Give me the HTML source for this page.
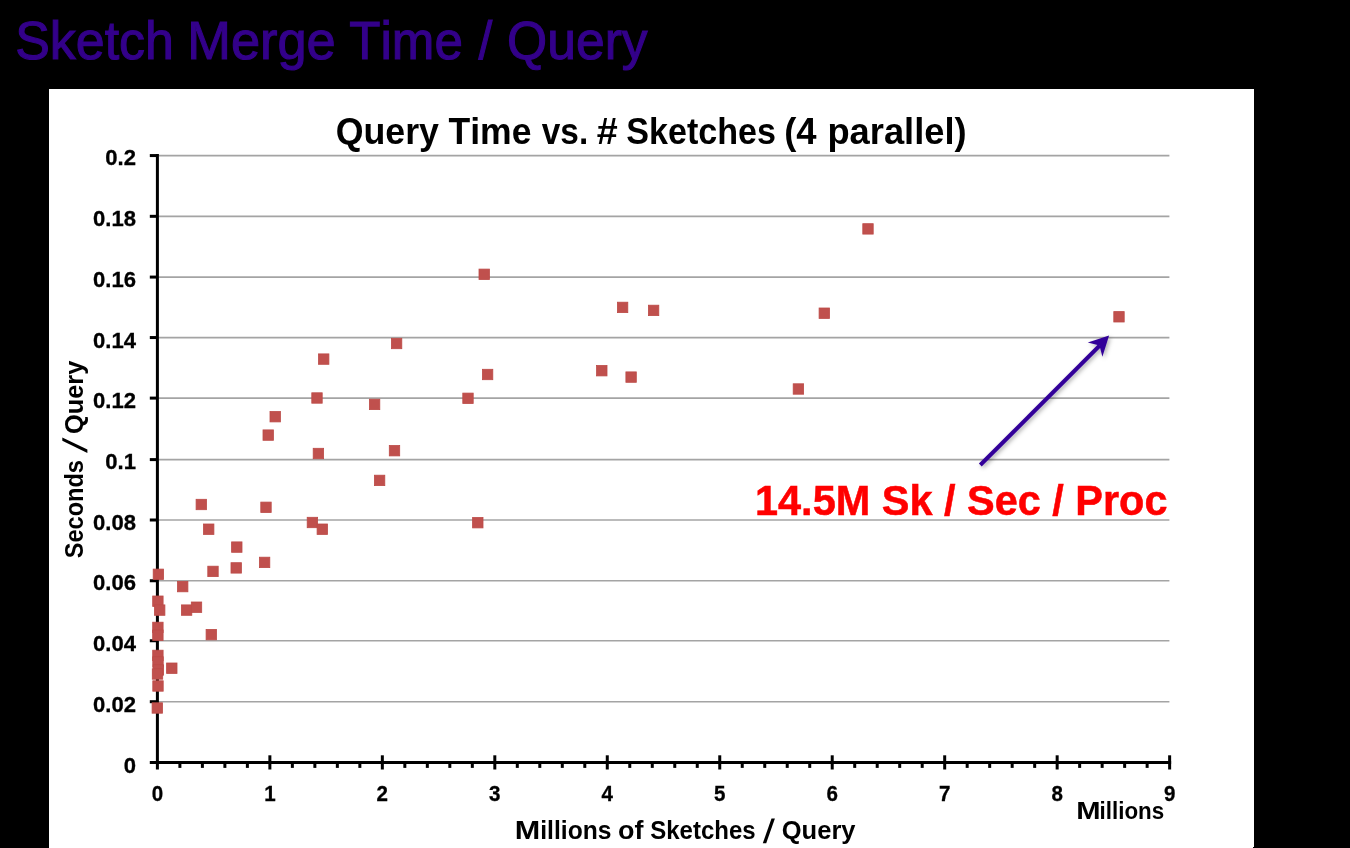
<!DOCTYPE html>
<html><head><meta charset="utf-8"><title>Sketch Merge Time / Query</title>
<style>
html,body{margin:0;padding:0;background:#000;}
body{width:1350px;height:848px;overflow:hidden;font-family:"Liberation Sans",sans-serif;}
svg{display:block;will-change:transform;}
text{font-family:"Liberation Sans",sans-serif;font-kerning:none;}
.b{font-weight:bold;fill:#000;}
</style></head><body>
<svg width="1350" height="848" viewBox="0 0 1350 848">
<rect x="0" y="0" width="1350" height="848" fill="#000"/>

<text fill="#33008a" stroke="#33008a" stroke-width="1.1" x="15.19" y="59.1" font-size="53.6" textLength="158.68" lengthAdjust="spacingAndGlyphs" >Sketch</text>
<text fill="#33008a" stroke="#33008a" stroke-width="1.1" x="187.25" y="59.1" font-size="53.6" textLength="148.47" lengthAdjust="spacingAndGlyphs" >Merge</text>
<text fill="#33008a" stroke="#33008a" stroke-width="1.1" x="349.35" y="59.1" font-size="53.6" textLength="113.47" lengthAdjust="spacingAndGlyphs" >Time</text>
<text fill="#33008a" stroke="#33008a" stroke-width="1.1" x="478.55" y="59.1" font-size="53.6" textLength="13.80" lengthAdjust="spacingAndGlyphs" >/</text>
<text fill="#33008a" stroke="#33008a" stroke-width="1.1" x="507.11" y="59.1" font-size="53.6" textLength="140.55" lengthAdjust="spacingAndGlyphs" >Query</text>
<rect x="49" y="89" width="1205" height="759" fill="#fff"/>

<g stroke="#a4a4a4" stroke-width="1.65">
<line x1="157.4" y1="701.70" x2="1169.4" y2="701.70"/>
<line x1="157.4" y1="640.75" x2="1169.4" y2="640.75"/>
<line x1="157.4" y1="580.75" x2="1169.4" y2="580.75"/>
<line x1="157.4" y1="520.00" x2="1169.4" y2="520.00"/>
<line x1="157.4" y1="459.60" x2="1169.4" y2="459.60"/>
<line x1="157.4" y1="398.10" x2="1169.4" y2="398.10"/>
<line x1="157.4" y1="337.55" x2="1169.4" y2="337.55"/>
<line x1="157.4" y1="277.08" x2="1169.4" y2="277.08"/>
<line x1="157.4" y1="216.32" x2="1169.4" y2="216.32"/>
<line x1="157.4" y1="155.57" x2="1169.4" y2="155.57"/>
</g>
<g stroke="#000" stroke-width="3">
<line x1="157.4" y1="154.05" x2="157.4" y2="769.5"/>
<line x1="149.8" y1="762.4" x2="1171.13" y2="762.4"/>
</g>
<g stroke="#000" stroke-width="3">
<line x1="149.8" y1="701.70" x2="157.4" y2="701.70"/>
<line x1="149.8" y1="640.75" x2="157.4" y2="640.75"/>
<line x1="149.8" y1="580.75" x2="157.4" y2="580.75"/>
<line x1="149.8" y1="520.00" x2="157.4" y2="520.00"/>
<line x1="149.8" y1="459.60" x2="157.4" y2="459.60"/>
<line x1="149.8" y1="398.10" x2="157.4" y2="398.10"/>
<line x1="149.8" y1="337.55" x2="157.4" y2="337.55"/>
<line x1="149.8" y1="277.08" x2="157.4" y2="277.08"/>
<line x1="149.8" y1="216.32" x2="157.4" y2="216.32"/>
<line x1="149.8" y1="155.57" x2="157.4" y2="155.57"/>
<line x1="179.89" y1="762.4" x2="179.89" y2="767.9"/>
<line x1="202.39" y1="762.4" x2="202.39" y2="767.9"/>
<line x1="224.88" y1="762.4" x2="224.88" y2="767.9"/>
<line x1="247.38" y1="762.4" x2="247.38" y2="767.9"/>
<line x1="269.87" y1="755.3" x2="269.87" y2="769.5"/>
<line x1="292.36" y1="762.4" x2="292.36" y2="767.9"/>
<line x1="314.86" y1="762.4" x2="314.86" y2="767.9"/>
<line x1="337.35" y1="762.4" x2="337.35" y2="767.9"/>
<line x1="359.85" y1="762.4" x2="359.85" y2="767.9"/>
<line x1="382.34" y1="755.3" x2="382.34" y2="769.5"/>
<line x1="404.83" y1="762.4" x2="404.83" y2="767.9"/>
<line x1="427.33" y1="762.4" x2="427.33" y2="767.9"/>
<line x1="449.82" y1="762.4" x2="449.82" y2="767.9"/>
<line x1="472.32" y1="762.4" x2="472.32" y2="767.9"/>
<line x1="494.81" y1="755.3" x2="494.81" y2="769.5"/>
<line x1="517.30" y1="762.4" x2="517.30" y2="767.9"/>
<line x1="539.80" y1="762.4" x2="539.80" y2="767.9"/>
<line x1="562.29" y1="762.4" x2="562.29" y2="767.9"/>
<line x1="584.79" y1="762.4" x2="584.79" y2="767.9"/>
<line x1="607.28" y1="755.3" x2="607.28" y2="769.5"/>
<line x1="629.77" y1="762.4" x2="629.77" y2="767.9"/>
<line x1="652.27" y1="762.4" x2="652.27" y2="767.9"/>
<line x1="674.76" y1="762.4" x2="674.76" y2="767.9"/>
<line x1="697.26" y1="762.4" x2="697.26" y2="767.9"/>
<line x1="719.75" y1="755.3" x2="719.75" y2="769.5"/>
<line x1="742.24" y1="762.4" x2="742.24" y2="767.9"/>
<line x1="764.74" y1="762.4" x2="764.74" y2="767.9"/>
<line x1="787.23" y1="762.4" x2="787.23" y2="767.9"/>
<line x1="809.73" y1="762.4" x2="809.73" y2="767.9"/>
<line x1="832.22" y1="755.3" x2="832.22" y2="769.5"/>
<line x1="854.71" y1="762.4" x2="854.71" y2="767.9"/>
<line x1="877.21" y1="762.4" x2="877.21" y2="767.9"/>
<line x1="899.70" y1="762.4" x2="899.70" y2="767.9"/>
<line x1="922.20" y1="762.4" x2="922.20" y2="767.9"/>
<line x1="944.69" y1="755.3" x2="944.69" y2="769.5"/>
<line x1="967.18" y1="762.4" x2="967.18" y2="767.9"/>
<line x1="989.68" y1="762.4" x2="989.68" y2="767.9"/>
<line x1="1012.17" y1="762.4" x2="1012.17" y2="767.9"/>
<line x1="1034.67" y1="762.4" x2="1034.67" y2="767.9"/>
<line x1="1057.16" y1="755.3" x2="1057.16" y2="769.5"/>
<line x1="1079.65" y1="762.4" x2="1079.65" y2="767.9"/>
<line x1="1102.15" y1="762.4" x2="1102.15" y2="767.9"/>
<line x1="1124.64" y1="762.4" x2="1124.64" y2="767.9"/>
<line x1="1147.14" y1="762.4" x2="1147.14" y2="767.9"/>
<line x1="1169.63" y1="755.3" x2="1169.63" y2="769.5"/>
</g>
<g fill="#C0504D" stroke="#BC4A47" stroke-width="0.8">
<rect x="153.2" y="569.1" width="10.4" height="10.4"/>
<rect x="177.5" y="581.4" width="10.4" height="10.4"/>
<rect x="207.8" y="566.2" width="10.4" height="10.4"/>
<rect x="231.0" y="562.7" width="10.4" height="10.4"/>
<rect x="231.6" y="541.9" width="10.4" height="10.4"/>
<rect x="259.4" y="557.2" width="10.4" height="10.4"/>
<rect x="152.7" y="596.0" width="10.4" height="10.4"/>
<rect x="154.5" y="604.9" width="10.4" height="10.4"/>
<rect x="181.4" y="604.9" width="10.4" height="10.4"/>
<rect x="191.3" y="602.0" width="10.4" height="10.4"/>
<rect x="152.7" y="622.2" width="10.4" height="10.4"/>
<rect x="152.7" y="630.0" width="10.4" height="10.4"/>
<rect x="206.1" y="629.4" width="10.4" height="10.4"/>
<rect x="152.7" y="650.2" width="10.4" height="10.4"/>
<rect x="152.8" y="656.8" width="10.4" height="10.4"/>
<rect x="166.6" y="663.0" width="10.4" height="10.4"/>
<rect x="153.2" y="664.8" width="10.4" height="10.4"/>
<rect x="152.3" y="668.8" width="10.4" height="10.4"/>
<rect x="152.8" y="680.8" width="10.4" height="10.4"/>
<rect x="152.1" y="702.8" width="10.4" height="10.4"/>
<rect x="391.4" y="338.3" width="10.4" height="10.4"/>
<rect x="318.5" y="353.9" width="10.4" height="10.4"/>
<rect x="311.8" y="392.8" width="10.4" height="10.4"/>
<rect x="369.4" y="399.2" width="10.4" height="10.4"/>
<rect x="270.0" y="411.5" width="10.4" height="10.4"/>
<rect x="263.0" y="429.9" width="10.4" height="10.4"/>
<rect x="313.2" y="448.3" width="10.4" height="10.4"/>
<rect x="389.3" y="445.5" width="10.4" height="10.4"/>
<rect x="374.4" y="475.2" width="10.4" height="10.4"/>
<rect x="196.1" y="499.3" width="10.4" height="10.4"/>
<rect x="260.8" y="502.1" width="10.4" height="10.4"/>
<rect x="203.5" y="524.0" width="10.4" height="10.4"/>
<rect x="307.2" y="517.3" width="10.4" height="10.4"/>
<rect x="317.1" y="524.0" width="10.4" height="10.4"/>
<rect x="479.0" y="269.1" width="10.4" height="10.4"/>
<rect x="617.4" y="302.2" width="10.4" height="10.4"/>
<rect x="648.4" y="305.2" width="10.4" height="10.4"/>
<rect x="819.1" y="308.0" width="10.4" height="10.4"/>
<rect x="482.4" y="369.3" width="10.4" height="10.4"/>
<rect x="596.6" y="365.5" width="10.4" height="10.4"/>
<rect x="625.9" y="371.9" width="10.4" height="10.4"/>
<rect x="793.2" y="383.8" width="10.4" height="10.4"/>
<rect x="462.8" y="393.1" width="10.4" height="10.4"/>
<rect x="472.6" y="517.5" width="10.4" height="10.4"/>
<rect x="862.8" y="223.7" width="10.4" height="10.4"/>
<rect x="1113.8" y="311.6" width="10.4" height="10.4"/>
</g>
<g class="b" font-size="21.2" text-anchor="end" stroke="#000" stroke-width="0.3">
<text transform="translate(136.0,772.50) scale(1.04,1)">0</text>
<text transform="translate(136.0,711.79) scale(1.04,1)">0.02</text>
<text transform="translate(136.0,651.08) scale(1.04,1)">0.04</text>
<text transform="translate(136.0,590.37) scale(1.04,1)">0.06</text>
<text transform="translate(136.0,529.66) scale(1.04,1)">0.08</text>
<text transform="translate(136.0,468.95) scale(1.04,1)">0.1</text>
<text transform="translate(136.0,408.24) scale(1.04,1)">0.12</text>
<text transform="translate(136.0,347.53) scale(1.04,1)">0.14</text>
<text transform="translate(136.0,286.82) scale(1.04,1)">0.16</text>
<text transform="translate(136.0,226.11) scale(1.04,1)">0.18</text>
<text transform="translate(136.0,165.40) scale(1.04,1)">0.2</text>
</g>
<g class="b" font-size="21.2" text-anchor="middle" stroke="#000" stroke-width="0.3">
<text transform="translate(157.40,800.7) scale(0.97,1)">0</text>
<text transform="translate(269.87,800.7) scale(0.97,1)">1</text>
<text transform="translate(382.34,800.7) scale(0.97,1)">2</text>
<text transform="translate(494.81,800.7) scale(0.97,1)">3</text>
<text transform="translate(607.28,800.7) scale(0.97,1)">4</text>
<text transform="translate(719.75,800.7) scale(0.97,1)">5</text>
<text transform="translate(832.22,800.7) scale(0.97,1)">6</text>
<text transform="translate(944.69,800.7) scale(0.97,1)">7</text>
<text transform="translate(1057.16,800.7) scale(0.97,1)">8</text>
<text transform="translate(1169.63,800.7) scale(0.97,1)">9</text>
</g>
<text class="b" x="335.63" y="143.8" font-size="36.3" textLength="103.36" lengthAdjust="spacingAndGlyphs" >Query</text>
<text class="b" x="448.50" y="143.8" font-size="36.3" textLength="83.02" lengthAdjust="spacingAndGlyphs" >Time</text>
<text class="b" x="541.77" y="143.8" font-size="36.3" textLength="46.43" lengthAdjust="spacingAndGlyphs" >vs.</text>
<text class="b" x="596.76" y="143.8" font-size="36.3" textLength="20.95" lengthAdjust="spacingAndGlyphs" >#</text>
<text class="b" x="626.32" y="143.8" font-size="36.3" textLength="149.68" lengthAdjust="spacingAndGlyphs" >Sketches</text>
<text class="b" x="784.18" y="143.8" font-size="36.3" textLength="32.41" lengthAdjust="spacingAndGlyphs" >(4</text>
<text class="b" x="827.41" y="143.8" font-size="36.3" textLength="139.20" lengthAdjust="spacingAndGlyphs" >parallel)</text>
<text class="b" x="514.85" y="839.05" font-size="26" textLength="25.49" lengthAdjust="spacingAndGlyphs" >M</text>
<text class="b" x="540.28" y="839.05" font-size="26" textLength="71.23" lengthAdjust="spacingAndGlyphs" >illions</text>
<text class="b" x="618.05" y="839.05" font-size="26" textLength="25.40" lengthAdjust="spacingAndGlyphs" >of</text>
<text class="b" x="650.21" y="839.05" font-size="26" textLength="105.38" lengthAdjust="spacingAndGlyphs" >Sketches</text>
<text class="b" x="781.75" y="839.05" font-size="26" textLength="73.78" lengthAdjust="spacingAndGlyphs" >Query</text><polygon points="762.8,843.3 766.2,843.3 774.9,818.4 771.5,818.4" fill="#000"/>
<text class="b" x="1076.15" y="818.8" font-size="23.8" textLength="24.30" lengthAdjust="spacingAndGlyphs" >M</text>
<text class="b" x="1099.54" y="818.8" font-size="23.8" textLength="64.68" lengthAdjust="spacingAndGlyphs" >illions</text>
<g transform="translate(83.4,0) rotate(-90)"><text class="b" x="-558.28" y="0" font-size="26.4" textLength="98.25" lengthAdjust="spacingAndGlyphs" >Seconds</text>
<text class="b" x="-434.04" y="0" font-size="26.4" textLength="73.28" lengthAdjust="spacingAndGlyphs" >Query</text><polygon points="-453,4 -449.6,4 -437.4,-21.1 -440.8,-21.1" fill="#000"/></g>
<defs><filter id="sh" x="-10%" y="-10%" width="125%" height="125%"><feDropShadow dx="1.6" dy="1.8" stdDeviation="1.9" flood-color="#000" flood-opacity="0.33"/></filter></defs>
<g filter="url(#sh)" fill="#330099">
<line x1="980.3" y1="465" x2="1099.8" y2="345.5" stroke="#330099" stroke-width="4"/>
<path d="M1109.1 335.4 L1087.8 342.5 L1099.5 345.4 L1102.4 356.8 Z"/>
</g>
<text x="755" y="514.6" font-size="42" font-weight="bold" fill="#FF0000" stroke="#FF0000" stroke-width="0.5" textLength="412.5" lengthAdjust="spacingAndGlyphs">14.5M Sk / Sec / Proc</text>
<rect x="1253" y="847" width="1" height="1" fill="#000"/>
</svg></body></html>
